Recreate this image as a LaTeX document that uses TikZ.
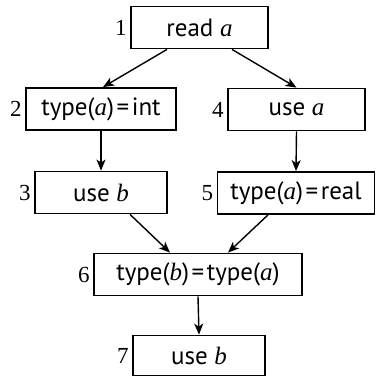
\documentclass[tikz,border=0pt]{standalone}
\usepackage{fontspec}
\newfontfamily\boxfont{PT Sans}
\newfontfamily\serfont{Liberation Serif}
\newcommand{\vv}[1]{{\serfont\itshape #1\/}}
\newcommand{\eqs}{\kern2.5pt=\kern2.5pt}
\usetikzlibrary{arrows.meta,calc}
\begin{document}
\begin{tikzpicture}[x=1pt,y=-1pt,
  box/.style={draw, line width=1.8pt, inner sep=0pt, minimum height=42pt,
    font=\fontsize{25}{28}\selectfont\boxfont,
    label distance=8pt},
  num/.style={font=\fontsize{23}{26}\selectfont\serfont},
  arr/.style={-{Stealth[length=11pt,width=9pt,inset=3pt]}, line width=1.4pt}]
\useasboundingbox (0,0) rectangle (376,385);
\node[box, minimum width=137pt, label={[num]left:1}] (b1) at (199.5,27.5) {read \vv{a}};
\node[box, minimum width=150pt, label={[num]left:2}] (b2) at (101,109) {type(\vv{a})\eqs int};
\node[box, minimum width=137pt, label={[num]left:4}] (b4) at (296.5,109.5) {use \vv{a}};
\node[box, minimum width=132pt, label={[num]left:3}] (b3) at (101,192.5) {use \vv{b}};
\node[box, minimum width=157pt, label={[num]left:5}] (b5) at (296,193) {type(\vv{a})\eqs real};
\node[box, minimum width=208pt, label={[num]left:6}] (b6) at (198,274.5) {type(\vv{b})\eqs type(\vv{a})};
\node[box, minimum width=132pt, minimum height=40pt, label={[num]left:7}] (b7) at (199,355.5) {use \vv{b}};
\draw[arr] ([xshift=-32.5pt]b1.south) -- ([xshift=2pt]b2.north);
\draw[arr] ([xshift=32.5pt]b1.south) -- (b4.north);
\draw[arr] (b2.south) -- (b3.north);
\draw[arr] (b4.south) -- (b5.north);
\draw[arr] ([xshift=29pt]b3.south) -- ([xshift=-28pt]b6.north);
\draw[arr] ([xshift=-28pt]b5.south) -- ([xshift=30pt]b6.north);
\draw[arr] (b6.south) -- (b7.north);
\end{tikzpicture}
\end{document}
